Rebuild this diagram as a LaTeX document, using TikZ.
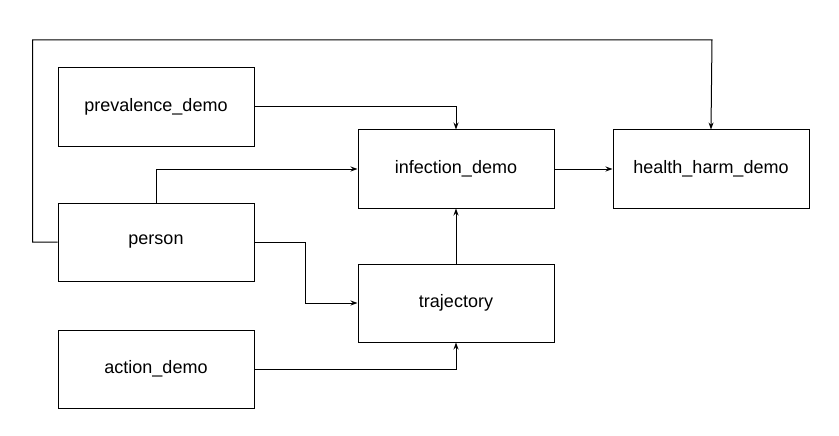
\documentclass[tikz,border=0pt]{standalone}
\usepackage{fontspec}
\setmainfont{Liberation Sans}
\usetikzlibrary{arrows.meta}

\begin{document}
\begin{tikzpicture}[x=1pt,y=-1pt,
    box/.style={draw, line width=1pt, minimum width=196pt, minimum height=78pt,
                font=\fontsize{18}{22}\selectfont},
    link/.style={line width=1pt, -{Stealth[length=7pt,width=5pt]}}]
\useasboundingbox (0,0) rectangle (839,436);
% left column
\node[box] (prevalence) at (156,107) {prevalence\_demo};
\node[box] (person)     at (156,242) {person};
\node[box] (action)     at (156,369) {action\_demo};
% middle and right
\node[box] (infection)  at (456,169) {infection\_demo};
\node[box] (trajectory) at (456,303) {trajectory};
\node[box] (harm)       at (711,169) {health\_harm\_demo};
% connectors
\draw[link] (prevalence.east) -| (infection.north);
\draw[link] (person.north) |- (infection.west);
\draw[link] (person.west) -- ++(-25,0) |- (712,40) -- (harm.north);
\draw[link] (person.east) -- ++(51,0) |- (trajectory.west);
\draw[link] (action.east) -| (trajectory.south);
\draw[link] (trajectory) -- (infection);
\draw[link] (infection) -- (harm);
\end{tikzpicture}
\end{document}
